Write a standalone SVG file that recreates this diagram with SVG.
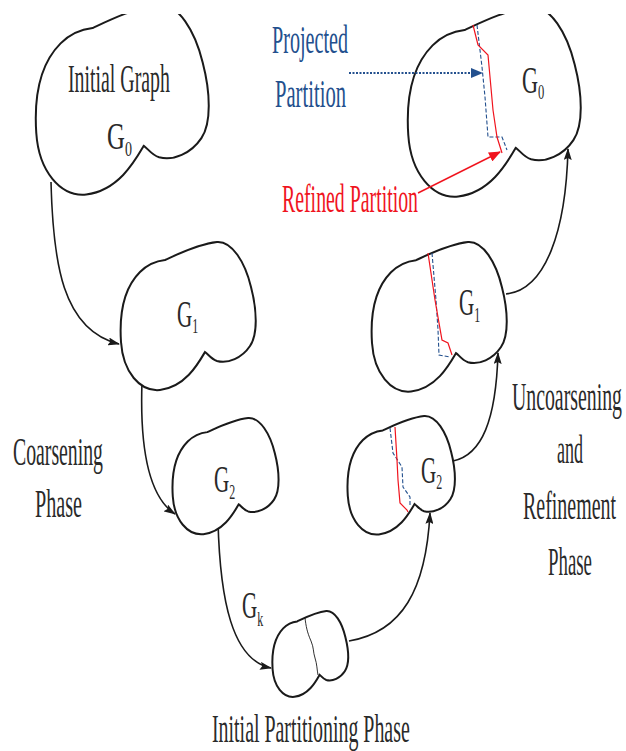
<svg xmlns="http://www.w3.org/2000/svg" width="626" height="751" viewBox="0 0 626 751">
  <style>
    .blob { fill: #fff; stroke: #1a1a1a; stroke-width: 2; }
    .edge { fill: none; stroke: #1a1a1a; stroke-width: 1.6; marker-end: url(#arrow); }
    .lbl { font-family: "Liberation Serif", "Times New Roman", serif; fill: #2a2a2a; }
    .big { font-size: 41px; }
    .g { font-size: 37px; }
    .sub { font-size: 21px; }
    .blue { fill: #23508e; }
    .red { fill: #f0141e; }
    .proj { fill: none; stroke: #23508e; stroke-width: 1.1; stroke-dasharray: 4 2; }
    .refn { fill: none; stroke: #f0141e; stroke-width: 1.2; }
  </style>
  <defs>
    <!-- generic graph outline: lobe at top-left, notch at lower right -->
    <path id="shape" vector-effect="non-scaling-stroke" d="M 45 18 C 58 12, 78 2, 97 0 C 112 -1, 125 20, 131 45 C 137 68, 138 92, 130 104 C 122 116, 108 122, 97 119 C 91 117, 88 112, 85 110 C 78 122, 65 145, 40 148 C 20 150, 3 130, 1 100 C -1 70, 5 45, 20 30 C 28 22, 36 19, 45 18 Z"/>
    <marker id="arrow" viewBox="0 0 12 8" refX="11" refY="4" markerWidth="12" markerHeight="8" markerUnits="userSpaceOnUse" orient="auto">
      <path d="M0,0 L12,4 L0,8 L2,4 Z" fill="#1a1a1a"/>
    </marker>
    <marker id="arrowBlue" viewBox="0 0 12 10" refX="11" refY="5" markerWidth="12" markerHeight="10" markerUnits="userSpaceOnUse" orient="auto">
      <path d="M0,0 L12,5 L0,10 Z" fill="#23508e"/>
    </marker>
    <marker id="arrowRed" viewBox="0 0 12 10" refX="11" refY="5" markerWidth="12" markerHeight="10" markerUnits="userSpaceOnUse" orient="auto">
      <path d="M0,0 L12,5 L0,10 Z" fill="#f0141e"/>
    </marker>
    <clipPath id="page">
      <rect x="0" y="14" width="626" height="737"/>
    </clipPath>
  </defs>

  <rect width="626" height="751" fill="#fff"/>

  <!-- connectors -->
  <g id="connectors">
    <path class="edge" d="M 51 182 C 53 262, 62 330, 119 344"/>
    <path class="edge" d="M 142 382 C 140 440, 146 495, 175 514"/>
    <path class="edge" d="M 218 521 C 220 600, 232 660, 271 668"/>
    <path class="edge" d="M 349 641 C 402 632, 426 590, 430 513"/>
    <path class="edge" d="M 453 461 C 482 455, 496 420, 498 353"/>
    <path class="edge" d="M 506 294 C 546 290, 566 230, 568 149"/>
  </g>

  <!-- coarsening side -->
  <g id="g0-initial" clip-path="url(#page)">
    <use href="#shape" class="blob" transform="translate(35,5) scale(1.28)"/>
    <text class="lbl big" transform="translate(68,92) scale(0.49,1)" textLength="208" lengthAdjust="spacingAndGlyphs">Initial Graph</text>
    <text class="lbl g" transform="translate(107,149) scale(0.67,1)">G<tspan class="sub" dy="7">0</tspan></text>
  </g>

  <g id="g1-coarse">
    <use href="#shape" class="blob" transform="translate(120,242)"/>
    <text class="lbl g" transform="translate(177,327) scale(0.57,1)">G<tspan class="sub" dy="6">1</tspan></text>
  </g>

  <g id="g2-coarse">
    <use href="#shape" class="blob" transform="translate(172,418) scale(0.785)"/>
    <text class="lbl g" transform="translate(214,492) scale(0.57,1)">G<tspan class="sub" dy="7">2</tspan></text>
  </g>

  <g id="gk">
    <use href="#shape" class="blob" transform="translate(272,611) scale(0.56,0.58)"/>
    <path d="M 305 618 C 306 626, 307 632, 311 641 C 314 648, 313 652, 315 658 C 317 664, 317 670, 318 675" fill="none" stroke="#1a1a1a" stroke-width="0.9"/>
    <text class="lbl g" transform="translate(242,618) scale(0.57,1)">G<tspan class="sub" dy="8">k</tspan></text>
  </g>

  <!-- uncoarsening side -->
  <g id="g2-refine">
    <use href="#shape" class="blob" transform="translate(347,416) scale(0.795,0.8)"/>
    <path class="proj" d="M 390 428 L 393 453 L 402 467 L 403 487 L 410 497 L 410 505"/>
    <path class="refn" d="M 395 427 L 397 460 L 398 480 L 400 503 L 407 510 L 408 512"/>
    <text class="lbl g" transform="translate(421,483) scale(0.57,1)">G<tspan class="sub" dy="6">2</tspan></text>
  </g>

  <g id="g1-refine">
    <use href="#shape" class="blob" transform="translate(371,242) scale(1,1.01)"/>
    <path class="proj" d="M 432 253 L 436 300 L 438 330 L 439 355 L 450 357"/>
    <path class="refn" d="M 428 253 L 435 300 L 442 340 L 448 343 L 452 355"/>
    <text class="lbl g" transform="translate(459,315) scale(0.57,1)">G<tspan class="sub" dy="7">1</tspan></text>
  </g>

  <g id="g0-refine" clip-path="url(#page)">
    <use href="#shape" class="blob" transform="translate(407,7) scale(1.28)"/>
    <path class="proj" d="M 477 25 L 482 67 L 485 97 L 488 137 L 502 137 L 507 150"/>
    <path class="refn" d="M 473 25 L 478 45 L 488 55 L 490 77 L 493 110 L 497 137 L 502 153"/>
    <text class="lbl g" transform="translate(522,93) scale(0.6,1)">G<tspan class="sub" dy="6">0</tspan></text>
  </g>

  <!-- partition callouts -->
  <g id="projected-note">
    <path d="M 349 73 L 482 73" fill="none" stroke="#23508e" stroke-width="2" stroke-dasharray="2 1.5" marker-end="url(#arrowBlue)"/>
    <text class="lbl big blue" transform="translate(272,53) scale(0.5,1)" textLength="152" lengthAdjust="spacingAndGlyphs">Projected</text>
    <text class="lbl big blue" transform="translate(275,107) scale(0.5,1)" textLength="142" lengthAdjust="spacingAndGlyphs">Partition</text>
  </g>

  <g id="refined-note">
    <path d="M 418 193 L 500 152" fill="none" stroke="#f0141e" stroke-width="1.5" marker-end="url(#arrowRed)"/>
    <text class="lbl big red" transform="translate(282,212) scale(0.5,1)" textLength="272" lengthAdjust="spacingAndGlyphs">Refined Partition</text>
  </g>

  <!-- phase captions -->
  <g id="coarsening-phase">
    <text class="lbl big" transform="translate(13,465) scale(0.48,1)" textLength="187.5" lengthAdjust="spacingAndGlyphs">Coarsening</text>
    <text class="lbl big" transform="translate(35,517) scale(0.48,1)" textLength="98" lengthAdjust="spacingAndGlyphs">Phase</text>
  </g>

  <g id="uncoarsening-phase">
    <text class="lbl big" transform="translate(512,410) scale(0.48,1)" textLength="229" lengthAdjust="spacingAndGlyphs">Uncoarsening</text>
    <text class="lbl big" transform="translate(557,463) scale(0.45,1)" textLength="58" lengthAdjust="spacingAndGlyphs">and</text>
    <text class="lbl big" transform="translate(523,519) scale(0.48,1)" textLength="194" lengthAdjust="spacingAndGlyphs">Refinement</text>
    <text class="lbl big" transform="translate(548,575) scale(0.46,1)" textLength="95.6" lengthAdjust="spacingAndGlyphs">Phase</text>
  </g>

  <g id="initial-partitioning-phase">
    <text class="lbl big" transform="translate(212,742) scale(0.48,1)" textLength="412" lengthAdjust="spacingAndGlyphs">Initial Partitioning Phase</text>
  </g>
</svg>
